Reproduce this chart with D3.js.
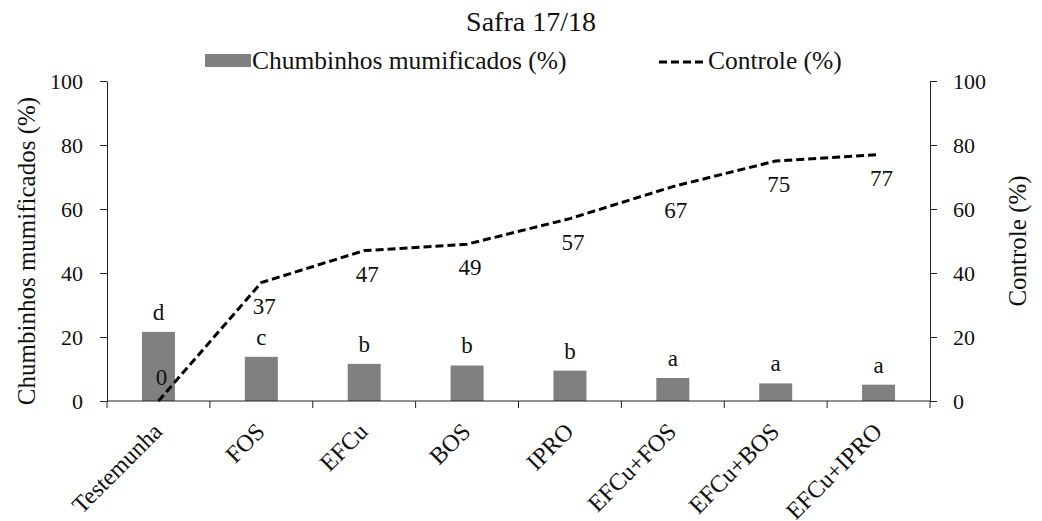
<!DOCTYPE html>
<html>
<head>
<meta charset="utf-8">
<script src="https://cdn.jsdelivr.net/npm/d3@7"></script>
<style>
  body { margin: 0; background: #fff; }
  svg text { font-family: "Liberation Serif", "Times New Roman", serif; fill: #111; }
</style>
</head>
<body>
<div id="chart"></div>
<script>
var categories = ['Testemunha', 'FOS', 'EFCu', 'BOS', 'IPRO', 'EFCu+FOS', 'EFCu+BOS', 'EFCu+IPRO'];
var mumificados = [21.6, 13.8, 11.6, 11.1, 9.5, 7.2, 5.5, 5.1];
var letras = ['d', 'c', 'b', 'b', 'b', 'a', 'a', 'a'];
var controle = [0, 37, 47, 49, 57, 67, 75, 77];
var yTicks = [0, 20, 40, 60, 80, 100];

var width = 1042;
var height = 521;
var plotLeft = 107, plotRight = 930, plotTop = 81, plotBottom = 401;

var svg = d3.select('#chart')
  .append('svg')
  .attr('width', width)
  .attr('height', height);

var x = d3.scaleBand().domain(categories).range([plotLeft, plotRight]);
var y = d3.scaleLinear().domain([0, 100]).range([plotBottom, plotTop]);
var y2 = d3.scaleLinear().domain([0, 100]).range([plotBottom, plotTop]);
var cx = d => x(d) + x.bandwidth() / 2;

// title
svg.append('text')
  .attr('x', 531).attr('y', 31)
  .attr('text-anchor', 'middle')
  .style('font-size', '28px')
  .text('Safra 17/18');

// legend
svg.append('rect')
  .attr('x', 205).attr('y', 54)
  .attr('width', 46).attr('height', 13)
  .attr('fill', '#808080');
svg.append('text')
  .attr('x', 252).attr('y', 69)
  .style('font-size', '25.5px')
  .text('Chumbinhos mumificados (%)');
svg.append('line')
  .attr('x1', 659).attr('x2', 707)
  .attr('y1', 62).attr('y2', 62)
  .attr('stroke', '#000')
  .attr('stroke-width', 3)
  .attr('stroke-dasharray', '8,4');
svg.append('text')
  .attr('x', 708).attr('y', 69)
  .style('font-size', '25.5px')
  .text('Controle (%)');

// bars
svg.selectAll('.bar')
  .data(mumificados)
  .enter()
  .append('rect')
  .attr('class', 'bar')
  .attr('x', (d, i) => cx(categories[i]) - 16.5)
  .attr('width', 33)
  .attr('y', d => y(d))
  .attr('height', d => y(0) - y(d))
  .attr('fill', '#808080');

// letters above bars
svg.selectAll('.letra')
  .data(letras)
  .enter()
  .append('text')
  .attr('class', 'letra')
  .attr('x', (d, i) => cx(categories[i]))
  .attr('y', (d, i) => y(mumificados[i]) - 12)
  .attr('text-anchor', 'middle')
  .style('font-size', '23px')
  .text(d => d);

// dashed line
var line = d3.line()
  .x((d, i) => cx(categories[i]))
  .y(d => y2(d));

svg.append('path')
  .datum(controle)
  .attr('fill', 'none')
  .attr('stroke', '#000')
  .attr('stroke-width', 3)
  .attr('stroke-dasharray', '8,4')
  .attr('d', line);

svg.selectAll('.valor')
  .data(controle)
  .enter()
  .append('text')
  .attr('class', 'valor')
  .attr('x', (d, i) => cx(categories[i]) + 3)
  .attr('y', d => Math.min(y2(d) + 31, y2(0) - 16))
  .attr('text-anchor', 'middle')
  .style('font-size', '23px')
  .text(d => d);

// left axis
var yAxis = d3.axisLeft(y).tickValues(yTicks).tickSize(7).tickSizeOuter(0).tickPadding(17);
var yAxisGroup = svg.append('g')
  .attr('transform', 'translate(' + plotLeft + ',0)')
  .call(yAxis);

// right axis
var y2Axis = d3.axisRight(y2).tickValues(yTicks).tickSize(7).tickSizeOuter(0).tickPadding(16);
var y2AxisGroup = svg.append('g')
  .attr('transform', 'translate(' + plotRight + ',0)')
  .call(y2Axis);

[yAxisGroup, y2AxisGroup].forEach(function(g) {
  g.selectAll('text').style('font-size', '22px').style('font-family', '"Liberation Serif", serif').attr('fill', '#111');
  g.selectAll('line, path').attr('stroke', '#222');
});

// x axis line and boundary ticks
svg.append('line')
  .attr('x1', plotLeft).attr('x2', plotRight)
  .attr('y1', y(0)).attr('y2', y(0))
  .attr('stroke', '#222');

var bounds = categories.map(c => x(c)).concat([x.range()[1]]);
svg.selectAll('.xtick')
  .data(bounds)
  .enter()
  .append('line')
  .attr('x1', d => d).attr('x2', d => d)
  .attr('y1', y(0)).attr('y2', y(0) + 7)
  .attr('stroke', '#222');

svg.selectAll('.cat')
  .data(categories)
  .enter()
  .append('text')
  .attr('class', 'cat')
  .attr('transform', d => 'translate(' + (cx(d) + 5) + ',' + (y(0) + 32) + ') rotate(-45)')
  .attr('text-anchor', 'end')
  .style('font-size', '24px')
  .text(d => d);

// axis titles
svg.append('text')
  .attr('transform', 'translate(35,' + ((plotTop + plotBottom) / 2 + 10) + ') rotate(-90)')
  .attr('text-anchor', 'middle')
  .style('font-size', '25px')
  .text('Chumbinhos mumificados (%)');

svg.append('text')
  .attr('transform', 'translate(1026,' + ((plotTop + plotBottom) / 2) + ') rotate(-90)')
  .attr('text-anchor', 'middle')
  .style('font-size', '25px')
  .text('Controle (%)');
</script>
</body>
</html>
